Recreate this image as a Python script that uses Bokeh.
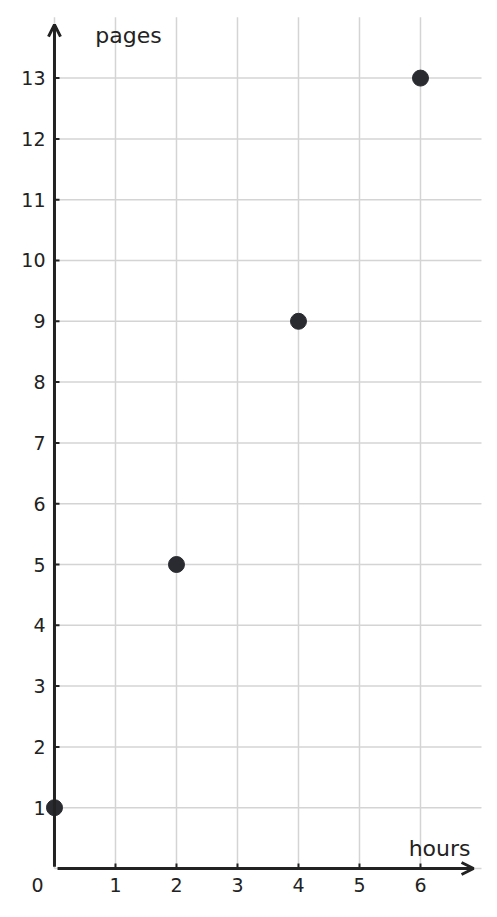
import math
from bokeh.plotting import figure
from bokeh.models import Range1d, Arrow, OpenHead, ColumnDataSource
from bokeh.core.properties import value
from bokeh.embed import file_html
from bokeh.resources import INLINE

# data
hours = [0, 2, 4, 6]
pages = [1, 5, 9, 13]
x_ticks = [1, 2, 3, 4, 5, 6]
y_ticks = list(range(1, 14))
x_grid_max = 7
y_grid_max = 14
x_label = "hours"
y_label = "pages"
origin_label = "0"

FONT = value("DejaVu Sans")
INK = "#222222"
GRID = "#d4d4d4"

p = figure(width=488, height=909, output_backend="svg", toolbar_location=None,
           x_range=Range1d(-0.885, 7.115), y_range=Range1d(-0.674, 14.276),
           x_axis_type=None, y_axis_type=None,
           min_border_left=0, min_border_right=0,
           min_border_top=0, min_border_bottom=0)
p.outline_line_color = None
p.background_fill_color = "white"
p.xgrid.visible = False
p.ygrid.visible = False

# grid (0 included, as in the reference)
gx = [0] + x_ticks
gy = [0] + y_ticks
p.segment(x0=gx, y0=[0] * len(gx), x1=gx, y1=[y_grid_max] * len(gx),
          line_color=GRID, line_width=1.5)
p.segment(x0=[0] * len(gy), y0=gy, x1=[x_grid_max] * len(gy), y1=gy,
          line_color=GRID, line_width=1.5)

# axis arrows
p.add_layout(Arrow(end=OpenHead(size=12, line_width=3, line_color=INK),
                   x_start=0, y_start=0.03, x_end=0, y_end=13.88,
                   line_width=3, line_color=INK))
p.add_layout(Arrow(end=OpenHead(size=12, line_width=3, line_color=INK),
                   x_start=0.05, y_start=0, x_end=6.87, y_end=0,
                   line_width=3, line_color=INK))

# tick marks (inward, 5px)
p.ray(x=x_ticks, y=[0] * len(x_ticks), length=5, length_units="screen",
      angle=math.pi / 2, line_color=INK, line_width=2)
p.ray(x=[0] * len(y_ticks), y=y_ticks, length=5, length_units="screen",
      angle=0, line_color=INK, line_width=2)

# tick labels
p.text(x=x_ticks, y=[0] * len(x_ticks), text=[str(t) for t in x_ticks],
       y_offset=9, text_align="center", text_baseline="top",
       text_font=FONT, text_font_size="19px", text_color=INK)
p.text(x=[0] * len(y_ticks), y=y_ticks, text=[str(t) for t in y_ticks],
       x_offset=-9, text_align="right", text_baseline="middle",
       text_font=FONT, text_font_size="19px", text_color=INK)
p.text(x=[0], y=[0], text=[origin_label], x_offset=-17, y_offset=9,
       text_align="center", text_baseline="top",
       text_font=FONT, text_font_size="19px", text_color=INK)

# data points
src = ColumnDataSource(dict(x=hours, y=pages))
p.scatter("x", "y", source=src, size=16, fill_color="#2a2b30",
          line_color="#2a2b30")

# axis titles
p.text(x=[0.67], y=[13.7], text=[y_label], text_align="left",
       text_baseline="middle", text_font=FONT, text_font_size="22px",
       text_color=INK)
p.text(x=[6.82], y=[0.33], text=[x_label], text_align="right",
       text_baseline="middle", text_font=FONT, text_font_size="22px",
       text_color=INK)

open("out.html", "w").write(file_html(p, INLINE))
